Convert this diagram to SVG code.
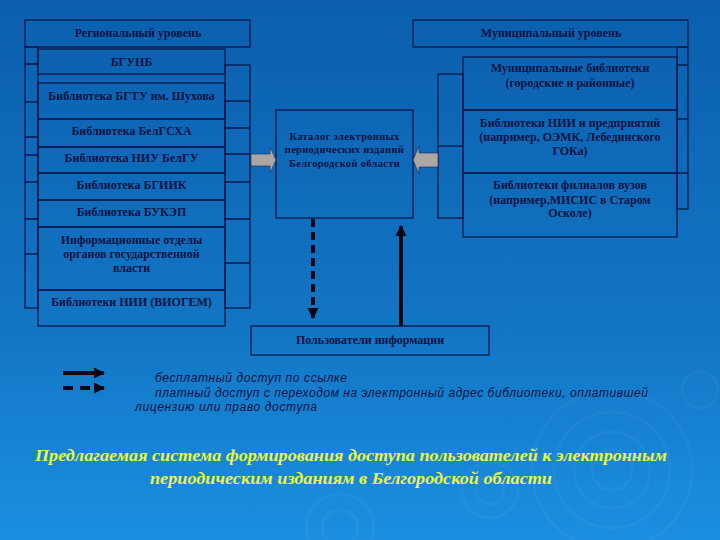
<svg xmlns="http://www.w3.org/2000/svg" width="720" height="540" viewBox="0 0 720 540">
<defs>
<linearGradient id="bg" x1="0" y1="0" x2="0" y2="1">
<stop offset="0" stop-color="#0b5fae"/>
<stop offset="0.6" stop-color="#1275c4"/>
<stop offset="1" stop-color="#1c8fe0"/>
</linearGradient>
<marker id="tri" viewBox="0 0 10 10" refX="9" refY="5" markerWidth="2.8" markerHeight="2.8" orient="auto" markerUnits="strokeWidth">
<path d="M0,0 L10,5 L0,10 Z" fill="#000814"/>
</marker>
</defs>
<style>
.box{fill:none;stroke:#0d1748;stroke-width:1.3}
.t{font-family:"Liberation Serif","DejaVu Serif",serif;font-weight:bold;font-size:12px;fill:#0a1240;text-anchor:middle}
.tc{font-family:"Liberation Serif","DejaVu Serif",serif;font-weight:bold;font-size:10.5px;fill:#0a1240;text-anchor:middle;letter-spacing:0.3px}
.lg{font-family:"Liberation Sans","DejaVu Sans",sans-serif;font-style:italic;font-size:12px;fill:#0a1240}
.ttl{font-family:"Liberation Serif","DejaVu Serif",serif;font-weight:bold;font-style:italic;font-size:16px;fill:#ecf548;text-anchor:middle}
.ga{fill:#aaa6a2;stroke:#1a2a5a;stroke-width:0.6}
.ln{stroke:#000814;stroke-width:4;fill:none}
.rip{fill:none;stroke:#ffffff;stroke-opacity:0.035;stroke-width:3}
</style>
<rect width="720" height="540" fill="url(#bg)"/>
<g id="ripples">
<circle class="rip" cx="612" cy="470" r="20"/>
<circle class="rip" cx="612" cy="470" r="38"/>
<circle class="rip" cx="612" cy="470" r="58"/>
<circle class="rip" cx="612" cy="470" r="80"/>
<circle class="rip" cx="340" cy="528" r="18"/>
<circle class="rip" cx="340" cy="528" r="34"/>
<circle class="rip" cx="490" cy="490" r="14"/>
<circle class="rip" cx="490" cy="490" r="28"/>
<circle class="rip" cx="700" cy="390" r="18"/>
</g>

<g id="regional">
<rect class="box" x="25" y="20" width="225" height="27"/>
<text class="t" x="138" y="37">Региональный уровень</text>
</g>
<g id="left-side-columns">
<rect class="box" x="25" y="47" width="13" height="261"/>
<path class="box" d="M25,64H38M25,102H38M25,137H38M25,155H38M25,182H38M25,219H38M25,254H38"/>
<rect class="box" x="225" y="65" width="25" height="243"/>
<path class="box" d="M225,101H250M225,128H250M225,154H250M225,182H250M225,219H250M225,263H250"/>
</g>
<g id="bgunb">
<rect class="box" x="38" y="49" width="187" height="25"/>
<text class="t" x="131.5" y="66">БГУНБ</text>
</g>
<g id="bgtu">
<rect class="box" x="38" y="83" width="187" height="36"/>
<text class="t" x="131.5" y="100">Библиотека БГТУ им. Шухова</text>
</g>
<g id="belgsha">
<rect class="box" x="38" y="119" width="187" height="28"/>
<text class="t" x="131.5" y="135">Библиотека БелГСХА</text>
</g>
<g id="niu">
<rect class="box" x="38" y="147" width="187" height="26"/>
<text class="t" x="131.5" y="162">Библиотека НИУ БелГУ</text>
</g>
<g id="bgiik">
<rect class="box" x="38" y="173" width="187" height="27"/>
<text class="t" x="131.5" y="189">Библиотека БГИИК</text>
</g>
<g id="bukep">
<rect class="box" x="38" y="200" width="187" height="27"/>
<text class="t" x="131.5" y="216">Библиотека БУКЭП</text>
</g>
<g id="info">
<rect class="box" x="38" y="227" width="187" height="63"/>
<text class="t" x="131.5" y="244">Информационные отделы</text>
<text class="t" x="131.5" y="258">органов государственной</text>
<text class="t" x="131.5" y="272">власти</text>
</g>
<g id="viogem">
<rect class="box" x="38" y="290" width="187" height="36"/>
<text class="t" x="131.5" y="306">Библиотеки НИИ (ВИОГЕМ)</text>
</g>

<g id="catalog">
<rect class="box" x="276" y="110" width="137" height="108"/>
<text class="tc" x="344.5" y="140">Каталог  электронных</text>
<text class="tc" x="344.5" y="153">периодических изданий</text>
<text class="tc" x="344.5" y="167">Белгородской области</text>
</g>

<g id="municipal">
<rect class="box" x="413" y="20" width="275" height="27"/>
<text class="t" x="551" y="37">Муниципальный уровень</text>
</g>
<g id="right-side-columns">
<rect class="box" x="677" y="47" width="11" height="162"/>
<path class="box" d="M677,65H688M677,119H688M677,173H688"/>
<rect class="box" x="438" y="74" width="25" height="144"/>
<path class="box" d="M438,146H463"/>
</g>
<g id="munlib">
<rect class="box" x="463" y="57" width="214" height="53"/>
<text class="t" x="570" y="72">Муниципальные библиотеки</text>
<text class="t" x="570" y="87">(городские и районные)</text>
</g>
<g id="nii">
<rect class="box" x="463" y="110" width="214" height="63"/>
<text class="t" x="570" y="127">Библиотеки НИИ и предприятий</text>
<text class="t" x="570" y="141">(например, ОЭМК, Лебединского</text>
<text class="t" x="570" y="155">ГОКа)</text>
</g>
<g id="filial">
<rect class="box" x="463" y="173" width="214" height="64"/>
<text class="t" x="570" y="189">Библиотеки филиалов вузов</text>
<text class="t" x="570" y="204">(например,МИСИС в Старом</text>
<text class="t" x="570" y="217">Осколе)</text>
</g>

<g id="users">
<rect class="box" x="251" y="326" width="238" height="29"/>
<text class="t" x="370" y="344">Пользователи информации</text>
</g>

<g id="connectors">
<path class="ga" d="M251,154H270V147L276,160L270,173V166H251Z"/>
<path class="ga" d="M438,153H419V146L413,160L419,174V167H438Z"/>
<line class="ln" x1="313" y1="219" x2="313" y2="318" stroke-dasharray="8 5" marker-end="url(#tri)"/>
<line class="ln" x1="401" y1="326" x2="401" y2="226" marker-end="url(#tri)"/>
</g>

<g id="legend">
<line class="ln" x1="63" y1="373" x2="104" y2="373" marker-end="url(#tri)"/>
<line class="ln" x1="63" y1="388" x2="104" y2="388" stroke-dasharray="10 7" marker-end="url(#tri)"/>
<text class="lg" x="155" y="382" textLength="192" lengthAdjust="spacing">бесплатный доступ по ссылке</text>
<text class="lg" x="155" y="397" textLength="493" lengthAdjust="spacing">платный доступ с переходом на электронный адрес библиотеки, оплатившей</text>
<text class="lg" x="135" y="411" textLength="182" lengthAdjust="spacing">лицензию или право доступа</text>
</g>

<g id="title">
<text class="ttl" x="351" y="461" textLength="632" lengthAdjust="spacingAndGlyphs">Предлагаемая система формирования доступа пользователей к электронным</text>
<text class="ttl" x="351" y="484" textLength="402" lengthAdjust="spacingAndGlyphs">периодическим изданиям в Белгородской области</text>
</g>
</svg>
